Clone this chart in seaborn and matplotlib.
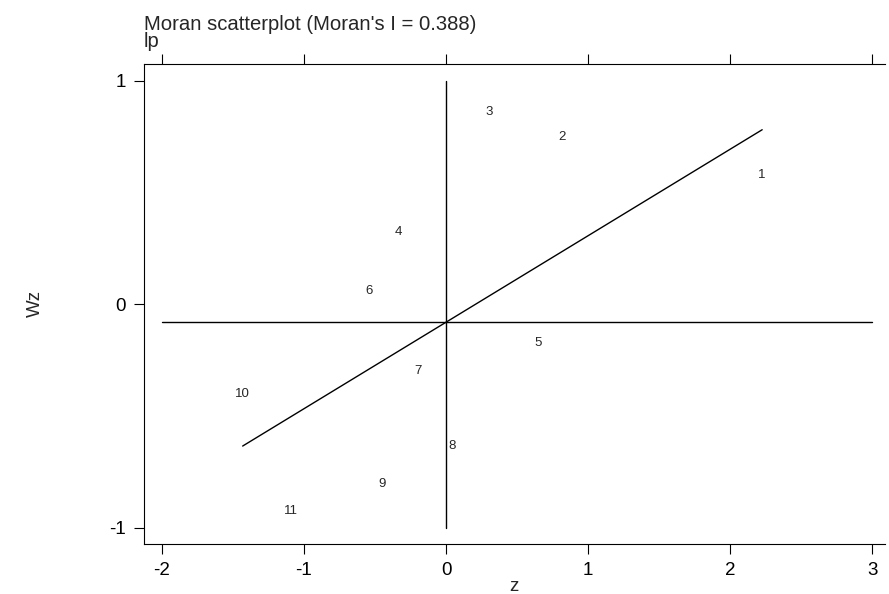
import numpy as np
import pandas as pd
import matplotlib
matplotlib.use("Agg")
import matplotlib.pyplot as plt
import seaborn as sns

# Moran scatterplot data (standardised z and its spatial lag Wz)
ids = ["1", "2", "3", "4", "5", "6", "7", "8", "9", "10", "11"]
z = [2.224, 0.818, 0.303, -0.336, 0.650, -0.540, -0.199, 0.044, -0.453, -1.431, -1.093]
wz = [0.557, 0.727, 0.839, 0.305, -0.194, 0.039, -0.318, -0.652, -0.822, -0.423, -0.943]
x_ticks = [-2, -1, 0, 1, 2, 3]
y_ticks = [-1, 0, 1]
title_text = "Moran scatterplot (Moran's I = 0.388)\nlp"

data = pd.DataFrame({"id": ids, "z": z, "wz": wz})

sns.set_theme(style="ticks")
plt.rcParams["font.family"] = ["Liberation Sans", "DejaVu Sans"]
plt.rcParams["axes.unicode_minus"] = False

fig = plt.figure(figsize=(8.89, 5.94), dpi=100)
ax = fig.add_axes([0.162, 0.0842, 0.833, 0.8081])

# fitted line of Wz on z, over the data range
sns.regplot(data=data, x="z", y="wz", scatter=False, ci=None, truncate=True,
            color="black", line_kws={"lw": 1}, ax=ax)

# reference lines at the means
ax.plot([x_ticks[0], x_ticks[-1]], [data["wz"].mean()] * 2, color="black", lw=1)
ax.plot([data["z"].mean()] * 2, [y_ticks[0], y_ticks[-1]], color="black", lw=1)

# point labels instead of markers
for _, row in data.iterrows():
    ax.annotate(row["id"], (row["z"], row["wz"]), xytext=(0, 3.2),
                textcoords="offset points", ha="center", va="center", fontsize=9.5)

ax.set_xlim(-2.125, 3.085)
ax.set_ylim(-1.072, 1.075)
ax.set_xticks(x_ticks)
ax.set_yticks(y_ticks)
ax.tick_params(axis="both", direction="out", length=7, width=0.8,
               labelsize=13.5, pad=6, colors="black")
ax.tick_params(axis="x", top=True, labeltop=False)
for s in ["left", "top", "bottom"]:
    ax.spines[s].set_color("black")
    ax.spines[s].set_linewidth(0.8)
ax.spines["right"].set_visible(False)

ax.set_xlabel("z", fontsize=13.5)
ax.set_ylabel("Wz", fontsize=13.5)
ax.xaxis.set_label_coords(0.5, -0.07)
ax.yaxis.set_label_coords(-0.135, 0.5)
ax.set_title(title_text, loc="left", fontsize=14.6, pad=12, linespacing=0.9)

fig.savefig("out.png", dpi=100)
